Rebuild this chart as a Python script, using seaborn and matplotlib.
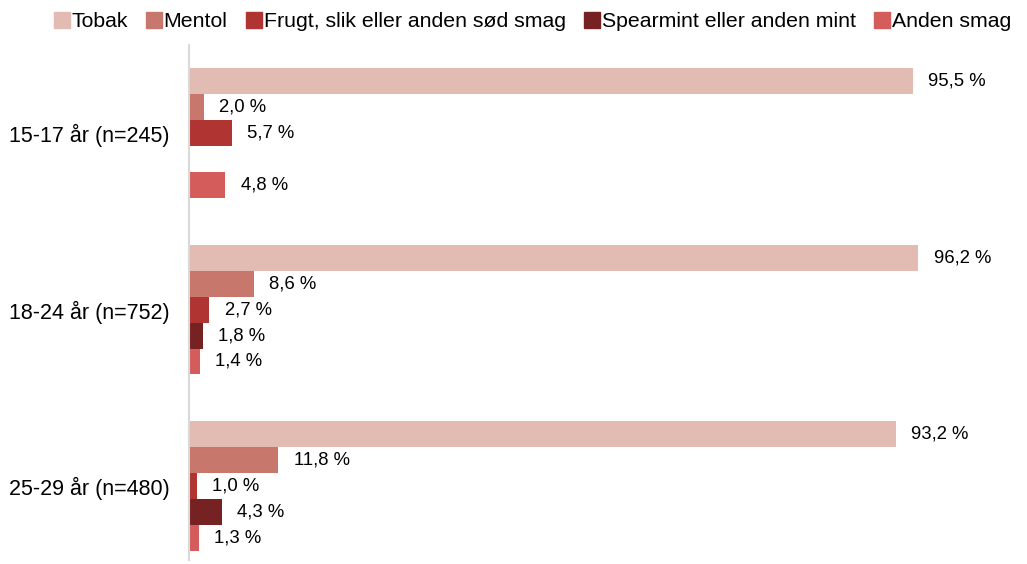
import numpy as np
import pandas as pd
import matplotlib.pyplot as plt
import seaborn as sns
from matplotlib.lines import Line2D

groups = ["15-17 år (n=245)", "18-24 år (n=752)", "25-29 år (n=480)"]
flavours = ["Tobak", "Mentol", "Frugt, slik eller anden sød smag",
            "Spearmint eller anden mint", "Anden smag"]
tobak = [95.5, 96.2, 93.2]
mentol = [2.0, 8.6, 11.8]
frugt = [5.7, 2.7, 1.0]
spearmint = [np.nan, 1.8, 4.3]
anden = [4.8, 1.4, 1.3]
colors = ["#E2BBB3", "#C7776B", "#B03431", "#772222", "#D45D5B"]

rows = []
for name, vals in zip(flavours, [tobak, mentol, frugt, spearmint, anden]):
    for g, v in zip(groups, vals):
        rows.append({"group": g, "flavour": name, "pct": v})
df = pd.DataFrame(rows)

sns.set_theme(style="white")
plt.rcParams["font.family"] = ["Liberation Sans", "DejaVu Sans"]
plt.rcParams["text.color"] = "black"
plt.rcParams["ytick.color"] = "black"

fig = plt.figure(figsize=(10.27, 5.64), dpi=100)
ax = fig.add_axes([0.184, 0.007, 0.812, 0.913])

sns.barplot(data=df, y="group", x="pct", hue="flavour", hue_order=flavours,
            order=groups, palette=colors, orient="h", width=0.735,
            saturation=1, legend=False, linewidth=0, ax=ax)

for c in ax.containers:
    labels = ["" if np.isnan(v) else f"{v:.1f} %".replace(".", ",")
              for v in c.datavalues]
    ax.bar_label(c, labels=labels, padding=11, fontsize=13.3, color="black")

ax.set_xlim(0, 110)
ax.set_ylim(2.42, -0.5)
ax.set_xlabel("")
ax.set_ylabel("")
ax.set_xticks([])
ax.tick_params(axis="y", labelsize=15.5, length=0, pad=14, labelcolor="black")
for s in ["top", "right", "bottom"]:
    ax.spines[s].set_visible(False)
ax.spines["left"].set_color("#D9D9D9")
ax.spines["left"].set_linewidth(1.5)

handles = [Line2D([], [], marker="s", linestyle="", markersize=11,
                  markerfacecolor=col, markeredgecolor=col) for col in colors]
fig.legend(handles, flavours, loc="upper left", bbox_to_anchor=(0.033, 1.012),
           ncol=5, frameon=False, fontsize=15.3, handletextpad=0.05,
           columnspacing=0.85, handlelength=0.8)

fig.savefig("out.png", dpi=100)
